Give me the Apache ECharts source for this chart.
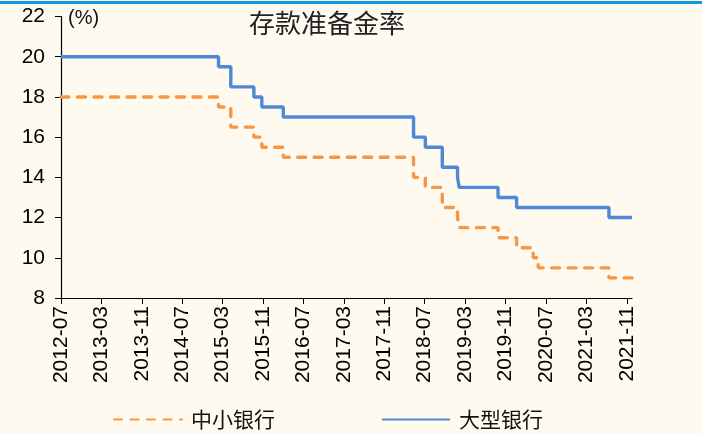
<!DOCTYPE html>
<html>
<head>
<meta charset="utf-8">
<script src="https://cdn.jsdelivr.net/npm/echarts@6/dist/echarts.min.js"></script>
<style>
html,body{margin:0;padding:0;background:#FFFAF0;}
#main{width:702px;height:434px;}
</style>
</head>
<body>
<div id="main"></div>
<script>
// Change dates (effective dates of RRR adjustments) and the rate after each change
const changeDates = ['2012-07-01','2015-02-05','2015-04-20','2015-09-06','2015-10-24','2016-03-01','2018-04-25','2018-07-05','2018-10-15','2019-01-15','2019-01-25','2019-09-16','2020-01-06','2020-04-15','2020-05-15','2021-07-15','2021-12-01'];
const largeBanks = [20,19.5,18.5,18,17.5,17,16,15.5,14.5,14,13.5,13,12.5,12.5,12.5,12,12];
const smallBanks = [18,17.5,16.5,16,15.5,15,14,13.5,12.5,12,11.5,11,10.5,10,9.5,9,9];
const xTickLabels = ['2012-07','2013-03','2013-11','2014-07','2015-03','2015-11','2016-07','2017-03','2017-11','2018-07','2019-03','2019-11','2020-07','2021-03','2021-11'];
const yTicks = [8,10,12,14,16,18,20,22];
const seriesNames = ['中小银行','大型银行'];
const titleText = '存款准备金率';
const unitText = '(%)';

function toTime(s){
  const p = s.split('-').map(Number);
  return Date.UTC(p[0], p[1]-1, p[2] || 1);
}
function fmt(v){
  const d = new Date(v);
  return d.getUTCFullYear()+'-'+String(d.getUTCMonth()+1).padStart(2,'0');
}
const xTickValues = xTickLabels.map(toTime);
const smallData = changeDates.map((d,i)=>[toTime(d), smallBanks[i]]);
const largeData = changeDates.map((d,i)=>[toTime(d), largeBanks[i]]);

const FONT = 'Liberation Sans';
const chart = echarts.init(document.getElementById('main'), null, {renderer:'canvas'});
const option = {
  backgroundColor:'#FFFAF0',
  animation:false,
  graphic:[
    {type:'rect', z:100, shape:{x:0,y:1,width:702,height:3}, style:{fill:'#0B9BDF'}},
    {type:'text', left:68, top:8, style:{text:unitText, fontSize:20, fill:'#111', fontFamily:FONT}},
    {type:'text', left:249, top:10, style:{text:titleText, fontSize:26, fill:'#222', fontFamily:'Noto Sans CJK SC'}}
  ],
  grid:{left:61, right:70, top:16.5, bottom:136},
  legend:{
    data:seriesNames,
    left:108, top:404,
    itemWidth:68, itemHeight:14, itemGap:106,
    itemStyle:{opacity:0},
    textStyle:{fontSize:21, color:'#111', fontFamily:'Noto Sans CJK SC', padding:[0,0,0,4]}
  },
  xAxis:{
    type:'value',
    min:toTime(changeDates[0]),
    max:toTime(changeDates[changeDates.length-1]),
    splitLine:{show:false},
    axisLine:{lineStyle:{color:'#000',width:1.2}},
    axisTick:{show:true, length:6, lineStyle:{color:'#000'}, customValues:xTickValues},
    axisLabel:{
      customValues:xTickValues,
      rotate:90, color:'#000', margin:8,
      textStyle:{fontSize:21, fontFamily:FONT},
      fontSize:21, fontFamily:FONT,
      formatter:fmt
    }
  },
  yAxis:{
    type:'value', min:yTicks[0], max:yTicks[yTicks.length-1], interval:2,
    splitLine:{show:false},
    axisLine:{show:true, lineStyle:{color:'#000',width:1.2}},
    axisTick:{show:true, length:6, lineStyle:{color:'#000'}},
    axisLabel:{fontSize:21, fontFamily:FONT, color:'#000', margin:16}
  },
  series:[
    {name:seriesNames[0], type:'line', step:'end', data:smallData, symbol:'none', showSymbol:false,
     lineStyle:{color:'#F79646', width:3.4, type:[8,8.5], cap:'round'}, itemStyle:{color:'#F79646'}},
    {name:seriesNames[1], type:'line', step:'end', data:largeData, symbol:'none', showSymbol:false,
     lineStyle:{color:'#4F88D6', width:3.4}, itemStyle:{color:'#4F88D6'}}
  ]
};
chart.setOption(option);
</script>
</body>
</html>
